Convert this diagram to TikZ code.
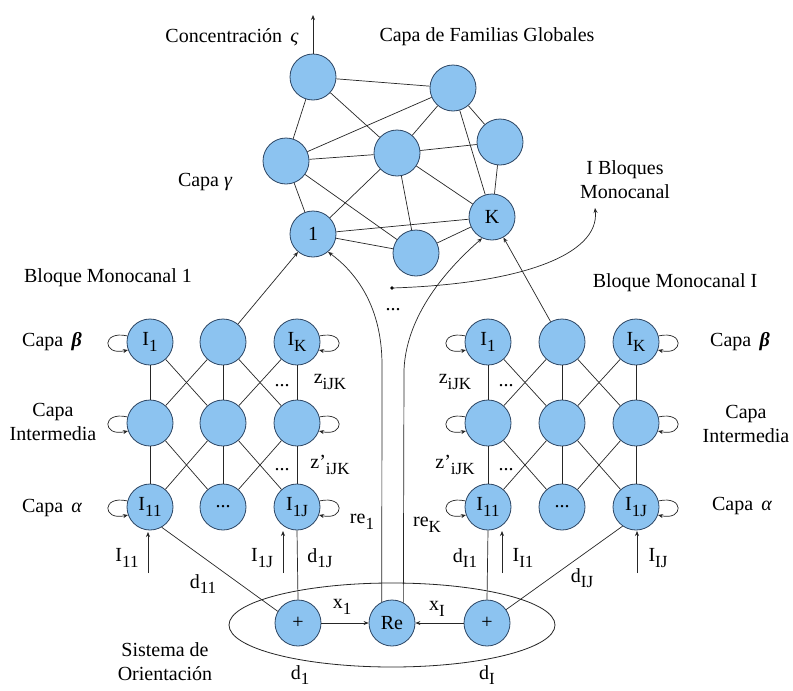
\documentclass[tikz,border=0pt]{standalone}
\usepackage{fontspec}
\setmainfont{Liberation Serif}
\usetikzlibrary{arrows.meta,calc,shapes.geometric}
\definecolor{nodefill}{RGB}{140,195,240}
\definecolor{nodeline}{RGB}{45,70,100}
\newcommand\Sb[1]{\raisebox{-0.28em}{\fontsize{17}{17}\selectfont #1}}
\begin{document}
\begin{tikzpicture}[x=1pt,y=-1pt,
  neuron/.style={circle,fill=nodefill,draw=nodeline,line width=0.8pt,minimum size=46pt,inner sep=0pt,font=\fontsize{20}{24}\selectfont},
  lbl/.style={font=\fontsize{20}{24}\selectfont,inner sep=0pt},
  conn/.style={line width=0.7pt,draw=black!85},
  arr/.style={conn,-{Stealth[length=5pt,width=4pt]}},
]
\useasboundingbox (0,0) rectangle (793,691);
\fill[white] (0,0) rectangle (793,691);

% ---------- gamma layer ----------
\node[neuron] (A) at (313,77) {};
\node[neuron] (B) at (453,88) {};
\node[neuron] (C) at (286,161) {};
\node[neuron] (D) at (397,153) {};
\node[neuron] (E) at (500,142) {};
\node[neuron] (G1) at (313,234) {1};
\node[neuron] (K) at (492,217) {K};
\node[neuron] (F) at (416,253) {};
\foreach \a/\b in {A/B,A/C,A/D,C/B,C/D,C/G1,C/F,D/B,B/E,D/E,D/G1,D/F,D/K,B/K,E/K,G1/K,G1/F,F/K}
  \draw[conn] (\a) -- (\b);
\coordinate (out) at (313,15);
\draw[arr] (A.north) -- (out);
\node[lbl] (conc) at (232,37) {Concentración \,{\itshape ς}};
\node[lbl] (fam) at (487,37) {Capa de Familias Globales};
\node[lbl] (cg) at (205,182) {Capa {\itshape γ}};

% ---------- blocks ----------
\foreach \blk/\xa/\xb/\xc in {L/150/223/297, R/488/562/636}{
  \node[neuron] (\blk11) at (\xa,342) {I\Sb{1}};
  \node[neuron] (\blk12) at (\xb,342) {};
  \node[neuron] (\blk13) at (\xc,342) {I\Sb{K}};
  \node[neuron] (\blk21) at (\xa,423) {};
  \node[neuron] (\blk22) at (\xb,423) {};
  \node[neuron] (\blk23) at (\xc,423) {};
  \node[neuron] (\blk31) at (\xa,507) {I\Sb{11}};
  \node[neuron] (\blk32) at (\xb,507) {...};
  \node[neuron] (\blk33) at (\xc,507) {I\Sb{1J}};
  \foreach \r/\s in {1/2,2/3}{
    \foreach \c in {1,2,3} \draw[conn] (\blk\r\c) -- (\blk\s\c);
    \draw[conn] (\blk\r1) -- (\blk\s2);
    \draw[conn] (\blk\r2) -- (\blk\s1);
    \draw[conn] (\blk\r2) -- (\blk\s3);
    \draw[conn] (\blk\r3) -- (\blk\s2);
  }
  \foreach \r in {1,2,3}{
    \draw[arr] (\blk\r1.165) .. controls +(-26,-6) and +(-26,6) .. (\blk\r1.200);
    \draw[arr] (\blk\r3.15) .. controls +(26,-6) and +(26,6) .. (\blk\r3.-20);
  }
}
% labels of blocks
\node[lbl] (bm1) at (108,278) {Bloque Monocanal 1};
\node[lbl] (bmI) at (675,283) {Bloque Monocanal I};
\node[lbl] (cbL) at (52,342) {Capa \,{\bfseries\itshape β}};
\node[lbl,align=center] (ciL) at (53,422) {Capa\\Intermedia};
\node[lbl] (caL) at (52,508) {Capa \,{\itshape α}};
\node[lbl] (cbR) at (740,342) {Capa \,{\bfseries\itshape β}};
\node[lbl,align=center] (ciR) at (746,424) {Capa\\Intermedia};
\node[lbl] (caR) at (742,506) {Capa \,{\itshape α}};

\node[lbl] (dotsL1) at (282,386) {...};
\node[lbl] (dotsL2) at (282,470) {...};
\node[lbl] (dotsR1) at (506,386) {...};
\node[lbl] (dotsR2) at (506,470) {...};
\node[lbl] (zL1) at (330,382) {z\Sb{iJK}};
\node[lbl] (zL2) at (330,465) {z'\Sb{iJK}};
\node[lbl] (zR1) at (455,382) {z\Sb{iJK}};
\node[lbl] (zR2) at (455,465) {z'\Sb{iJK}};

% ---------- links to gamma ----------
\draw[arr] (L12) -- (G1);
\draw[arr] (R12) -- (K);

% ---------- orientation system ----------
\node[neuron] (Lp) at (298,623) {+};
\node[neuron] (Re) at (392,623) {Re};
\node[neuron] (Rp) at (487,623) {+};
\node[draw=black!85,line width=0.8pt,ellipse,minimum width=326pt,minimum height=84pt,inner sep=0pt] (sys) at (392,625) {};
\draw[arr] (Lp) -- (Re);
\draw[arr] (Rp) -- (Re);
\node[lbl] (x1) at (342,607) {x\Sb{1}};
\node[lbl] (xI) at (437,609) {x\Sb{I}};
\node[lbl] (d1) at (300,675) {d\Sb{1}};
\node[lbl] (dI) at (487,675) {d\Sb{I}};
\node[lbl,align=center] (so) at (165,662) {Sistema de\\Orientación};

% d lines
\draw[conn] (Lp.150) -- (L31.-60);
\draw[conn] (Lp.north) -- (L33.south);
\draw[conn] (Rp.north) -- (R31.south);
\draw[conn] (Rp.35) -- (R33.235);
\node[lbl] (d11) at (203,584) {d\Sb{11}};
\node[lbl] (d1J) at (320,558) {d\Sb{1J}};
\node[lbl] (dI1) at (465,558) {d\Sb{I1}};
\node[lbl] (dIJ) at (582,578) {d\Sb{IJ}};

% external inputs
\coordinate (iL1) at (148,573);
\coordinate (iL2) at (283,573);
\coordinate (iR1) at (502,573);
\coordinate (iR2) at (637,573);
\draw[arr] (iL1) -- ++(0,-41);
\draw[arr] (iL2) -- ++(0,-42);
\draw[arr] (iR1) -- ++(0,-42);
\draw[arr] (iR2) -- ++(0,-42);
\node[lbl] (I11) at (127,558) {I\Sb{11}};
\node[lbl] (I1J) at (262,558) {I\Sb{1J}};
\node[lbl] (II1) at (523,558) {I\Sb{I1}};
\node[lbl] (IIJ) at (658,558) {I\Sb{IJ}};

% re lines
\draw[arr] (Re.116) -- (382,365) .. controls (382,300) and (350,268) .. (G1.-50);
\draw[arr] (Re.61) -- (404,370) .. controls (406,320) and (440,275) .. (K.-115);
\node[lbl] (re1) at (362,522) {re\Sb{1}};
\node[lbl] (reK) at (427,525) {re\Sb{K}};
\node[lbl] (mdots) at (393,310) {...};

% I Bloques Monocanal pointer
\coordinate (pdot) at (392,288);
\coordinate (ptip) at (595,208);
\fill (pdot) circle (1.8);
\draw[arr] (pdot) .. controls (520,284) and (600,255) .. (ptip);
\node[lbl,align=center] (ibm) at (625,180) {I Bloques\\Monocanal};
\end{tikzpicture}
\end{document}
